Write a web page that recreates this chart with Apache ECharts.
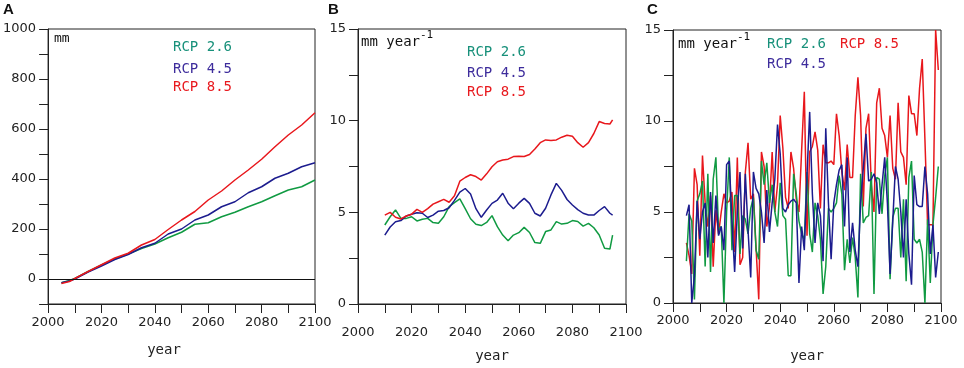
<!DOCTYPE html>
<html>
<head>
<meta charset="utf-8">
<script src="https://cdn.jsdelivr.net/npm/echarts@6/dist/echarts.min.js"></script>
<style>
  html, body { margin: 0; padding: 0; background: #fff; }
  #main { width: 964px; height: 368px; }
</style>
</head>
<body>
<div id="main"></div>
<script>
// A: cumulative (mm)
var yearsA = [2005, 2008, 2010, 2015, 2020, 2025, 2030, 2035, 2040, 2045, 2050, 2055, 2060, 2065, 2070, 2075, 2080, 2085, 2090, 2095, 2100];
var a26 = [-15, -6, 2, 30, 56, 80, 100, 122, 140, 165, 187, 219, 225, 249, 267, 289, 309, 333, 356, 369, 396];
var a45 = [-15, -8, 0, 28, 52, 78, 98, 125, 143, 180, 200, 236, 256, 289, 309, 345, 369, 403, 423, 449, 465];
var a85 = [-18, -10, 2, 30, 57, 84, 103, 136, 158, 198, 236, 270, 316, 352, 396, 436, 479, 529, 576, 616, 665];

// B: smoothed rate (mm year-1)
var yearsB = [2010, 2012, 2014, 2016, 2018, 2020, 2022, 2024, 2026, 2028, 2030, 2032, 2034, 2036, 2038, 2040, 2042, 2044, 2046, 2048, 2050, 2052,
  2054, 2056, 2058, 2060, 2062, 2064, 2066, 2068, 2070, 2072, 2074, 2076, 2078, 2080, 2082, 2084, 2086, 2088, 2090, 2092, 2094, 2095];
var b26 = [4.31, 4.76, 5.13, 4.67, 4.67, 4.76, 4.53, 4.62, 4.67, 4.44, 4.4, 4.76, 5.31, 5.53, 5.73, 5.2, 4.65, 4.35, 4.28, 4.45, 4.82, 4.22,
  3.76, 3.45, 3.76, 3.89, 4.18, 3.9, 3.35, 3.31, 3.95, 4.04, 4.49, 4.36, 4.4, 4.55, 4.5, 4.25, 4.4, 4.16, 3.76, 3.04, 3.0, 3.76];
var b45 = [3.76, 4.2, 4.49, 4.55, 4.8, 4.9, 4.98, 4.95, 4.72, 4.85, 5.06, 5.1, 5.25, 5.65, 6.1, 6.3, 6.0, 5.2, 4.73, 5.13, 5.49, 5.67,
  6.04, 5.5, 5.2, 5.5, 5.76, 5.49, 4.95, 4.8, 5.22, 5.95, 6.58, 6.2, 5.7, 5.4, 5.15, 4.95, 4.85, 4.85, 5.1, 5.31, 4.95, 4.85];
var b85 = [4.85, 5.0, 4.73, 4.64, 4.8, 4.9, 5.16, 5.0, 5.2, 5.45, 5.58, 5.71, 5.55, 5.9, 6.7, 6.9, 7.05, 6.95, 6.76, 7.1, 7.49, 7.76,
  7.85, 7.9, 8.04, 8.06, 8.05, 8.15, 8.45, 8.8, 8.95, 8.92, 8.95, 9.1, 9.2, 9.15, 8.8, 8.55, 8.8, 9.3, 9.95, 9.85, 9.82, 10.04];

// C: annual rate (mm year-1), one value per year from 2005 to 2099
var startYearC = 2005;
var c26 = [2.3, 4.9, 4.5, 0.2, 5.6, 6.0, 6.7, 2.0, 7.1, 1.7, 6.8, 8.0, 4.0, 4.2, 0.0, 5.0, 8.0, 2.9, 5.9, 5.9,
  2.7, 4.8, 4.6, 3.8, 5.2, 5.8, 2.9, 2.4, 7.8, 6.5, 7.7, 5.5, 6.5, 5.0, 4.2, 6.6, 4.8, 4.6, 1.5, 1.5,
  7.1, 6.0, 4.5, 3.8, 3.5, 7.2, 3.8, 2.8, 5.5, 4.8, 3.5, 0.5, 2.0, 5.2, 5.0, 5.2, 5.5, 7.0, 6.0, 1.8,
  3.5, 2.2, 3.6, 2.5, 0.3, 7.1, 4.4, 4.7, 4.8, 7.2, 0.5, 6.9, 6.8, 4.9, 7.0, 8.0, 1.3, 4.7, 5.2, 5.2,
  2.5, 5.7, 1.2, 6.9, 7.8, 3.5, 3.3, 3.5, 2.8, 0.0, 4.6, 1.1, 4.3, 5.8, 7.5];
var c45 = [4.8, 5.4, 0.0, 1.5, 5.6, 3.5, 5.0, 5.5, 2.5, 6.1, 3.3, 5.9, 3.7, 4.2, 2.9, 7.6, 7.8, 4.5, 1.7, 5.0,
  7.2, 3.0, 7.1, 4.0, 1.4, 7.2, 6.3, 6.0, 5.0, 3.3, 6.2, 3.9, 5.5, 6.8, 9.8, 8.2, 5.2, 5.0, 5.4, 5.6,
  5.7, 5.5, 1.1, 4.2, 2.9, 7.0, 10.5, 6.0, 3.3, 5.5, 4.8, 2.3, 9.6, 5.5, 2.4, 5.5, 6.5, 7.3, 7.6, 4.2,
  8.0, 2.8, 4.4, 2.9, 2.0, 5.5, 7.4, 9.3, 6.7, 6.8, 7.1, 6.6, 4.9, 6.5, 8.0, 5.5, 1.6, 4.5, 7.5, 6.8,
  5.0, 2.5, 5.7, 2.7, 1.0, 7.0, 5.4, 5.3, 5.3, 7.5, 6.0, 2.7, 4.3, 1.4, 2.8];
var c85 = [3.3, 2.6, 1.6, 7.4, 6.5, 2.6, 8.1, 5.5, 4.2, 5.9, 2.0, 5.1, 3.8, 5.0, 6.0, 5.5, 5.6, 6.1, 2.8, 8.0,
  2.1, 2.5, 7.2, 8.8, 5.7, 6.0, 3.0, 0.2, 8.3, 7.5, 4.2, 5.3, 8.3, 5.0, 6.5, 10.3, 8.5, 5.8, 5.2, 8.3,
  7.4, 5.7, 5.0, 8.4, 11.6, 3.7, 8.3, 8.6, 9.4, 8.4, 5.2, 8.7, 7.7, 7.7, 7.8, 7.6, 10.4, 9.2, 7.2, 6.2,
  8.7, 6.9, 6.9, 10.3, 12.4, 10.3, 5.3, 9.6, 10.4, 6.5, 5.0, 11.0, 11.8, 9.6, 9.2, 8.0, 10.3, 7.4, 6.8, 11.0,
  8.3, 8.0, 6.5, 11.4, 10.4, 10.4, 9.2, 11.8, 13.4, 9.0, 4.3, 4.3, 4.3, 15.0, 12.8];

var colors = { g: '#109a42', b: '#1c1c8e', r: '#e8171c' };
var textColors = { g: '#17907a', b: '#3d2c9c', r: '#e8191e' };
var axisColor = '#222';
var monoFont = 'DejaVu Sans Mono';

function pairs(xs, ys) {
  var out = [];
  for (var i = 0; i < ys.length; i++) out.push([xs[i], ys[i]]);
  return out;
}
function annual(start, ys) {
  var out = [];
  for (var i = 0; i < ys.length; i++) out.push([start + i, ys[i]]);
  return out;
}

function xAxisFor(idx, labelMargin, nameGap, namePad) {
  return {
    gridIndex: idx, type: 'value', min: 2000, max: 2100, interval: 10,
    axisLine: { onZero: false, lineStyle: { color: axisColor, width: 1 } },
    axisTick: { length: 9, lineStyle: { color: axisColor } },
    splitLine: { show: false },
    axisLabel: {
      margin: labelMargin, color: axisColor, fontSize: 13, fontFamily: 'DejaVu Sans',
      formatter: function (v) { return v % 20 === 0 ? String(v) : ''; }
    },
    name: 'year', nameLocation: 'middle', nameGap: nameGap,
    nameTextStyle: { color: axisColor, fontSize: 14, fontFamily: monoFont, padding: namePad }
  };
}
function yAxisFor(idx, min, max, step, labelStep) {
  return {
    gridIndex: idx, type: 'value', min: min, max: max, interval: step,
    axisLine: { show: true, lineStyle: { color: axisColor, width: 1 } },
    axisTick: { show: true, length: 9, lineStyle: { color: axisColor } },
    splitLine: { show: false },
    axisLabel: {
      margin: 12, color: axisColor, fontSize: 13, fontFamily: 'DejaVu Sans',
      formatter: function (v) { return Math.abs(v % labelStep) < 1e-9 ? String(v) : ''; }
    }
  };
}
function line(name, idx, data, color) {
  return {
    name: name, type: 'line', xAxisIndex: idx, yAxisIndex: idx, data: data,
    showSymbol: false, symbol: 'none', animation: false,
    lineStyle: { color: color, width: 1.5 }, itemStyle: { color: color }
  };
}
function label(text, x, y, color, size, font, weight) {
  return {
    type: 'text', left: x, top: y, silent: true,
    style: { text: text, fill: color, fontSize: size || 14, fontFamily: font || monoFont, fontWeight: weight || 'normal' }
  };
}

var chart = echarts.init(document.getElementById('main'));

var gridBox = { show: true, borderColor: axisColor, borderWidth: 1, containLabel: false };
var option = {
  animation: false,
  grid: [
    Object.assign({ left: 46, top: 29, width: 269, height: 275 }, gridBox),
    Object.assign({ left: 358, top: 29, width: 268, height: 275 }, gridBox),
    Object.assign({ left: 673, top: 30, width: 268, height: 275 }, gridBox)
  ],
  xAxis: [
    xAxisFor(0, 12, 39, [0, 35, 0, 0]),
    xAxisFor(1, 22, 45, 0),
    xAxisFor(2, 11, 46, 0)
  ],
  yAxis: [
    yAxisFor(0, -100, 1000, 100, 200),
    yAxisFor(1, 0, 15, 2.5, 5),
    yAxisFor(2, 0, 15, 2.5, 5)
  ],
  series: [
    line('RCP 2.6', 0, pairs(yearsA, a26), colors.g),
    line('RCP 4.5', 0, pairs(yearsA, a45), colors.b),
    Object.assign(line('RCP 8.5', 0, pairs(yearsA, a85), colors.r), {
      // zero line across panel A
      markLine: {
        silent: true, symbol: 'none', animation: false,
        label: { show: false },
        lineStyle: { color: '#111', width: 1, type: 'solid' },
        data: [{ yAxis: 0 }]
      }
    }),
    line('RCP 2.6', 1, pairs(yearsB, b26), colors.g),
    line('RCP 4.5', 1, pairs(yearsB, b45), colors.b),
    line('RCP 8.5', 1, pairs(yearsB, b85), colors.r),
    line('RCP 8.5', 2, annual(startYearC, c85), colors.r),
    line('RCP 2.6', 2, annual(startYearC, c26), colors.g),
    line('RCP 4.5', 2, annual(startYearC, c45), colors.b)
  ],
  graphic: [
    // panel letters
    label('A', 3, 2, '#111', 15, 'Liberation Sans', 'bold'),
    label('B', 328, 2, '#111', 15, 'Liberation Sans', 'bold'),
    label('C', 647, 2, '#111', 15, 'Liberation Sans', 'bold'),
    // A
    label('mm', 54, 32, '#111', 13),
    label('RCP 2.6', 173, 40, textColors.g),
    label('RCP 4.5', 173, 62, textColors.b),
    label('RCP 8.5', 173, 80, textColors.r),
    // B
    label('mm year', 361, 35, '#111'),
    label('-1', 420, 30, '#111', 11),
    label('RCP 2.6', 467, 45, textColors.g),
    label('RCP 4.5', 467, 66, textColors.b),
    label('RCP 8.5', 467, 85, textColors.r),
    // C
    label('mm year', 678, 37, '#111'),
    label('-1', 737, 32, '#111', 11),
    label('RCP 2.6', 767, 37, textColors.g),
    label('RCP 8.5', 840, 37, textColors.r),
    label('RCP 4.5', 767, 57, textColors.b)
  ]
};

chart.setOption(option);
</script>
</body>
</html>
